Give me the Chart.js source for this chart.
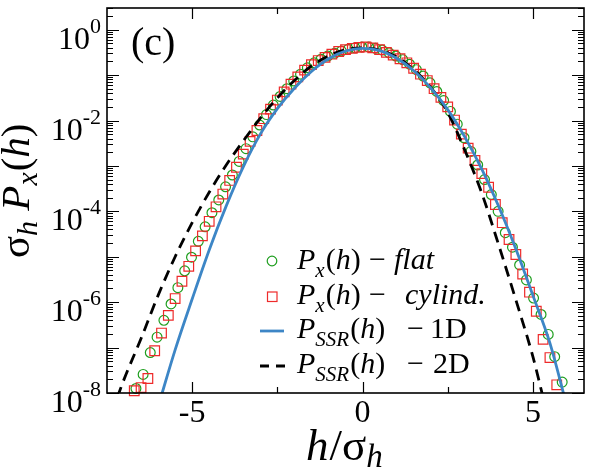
<!DOCTYPE html>
<html>
<head>
<meta charset="utf-8">
<script src="https://cdn.jsdelivr.net/npm/chart.js@4/dist/chart.umd.min.js"></script>
<style>
  html, body { margin: 0; padding: 0; background: #fff; }
  #wrap { width: 592px; height: 469px; }
</style>
</head>
<body>
<div id="wrap"><canvas id="myChart" width="592" height="469"></canvas></div>
<script>
// values (exponents, log10 of sigma_h P_x(h))
var hFlat = [-6.65, -6.44, -6.23, -6.03, -5.83, -5.62, -5.42, -5.22, -5.02, -4.82, -4.62, -4.42, -4.22, -4.02, -3.82,
  -3.62, -3.42, -3.22, -3.02, -2.82, -2.62, -2.42, -2.22, -2.02, -1.82, -1.62, -1.42, -1.22, -1.02, -0.82,
  -0.62, -0.42, -0.22, -0.02, 0.18, 0.38, 0.58, 0.78, 0.98, 1.18, 1.38, 1.58, 1.78, 1.98, 2.18,
  2.38, 2.58, 2.78, 2.98, 3.18, 3.38, 3.58, 3.78, 3.98, 4.19, 4.40, 4.61, 4.81, 5.02, 5.24, 5.45, 5.64, 5.86];
var logFlat = [-7.90, -7.59, -7.11, -6.77, -6.40, -6.04, -5.68, -5.31, -5.01, -4.66, -4.34, -4.03, -3.75, -3.46, -3.20,
  -2.90, -2.62, -2.36, -2.10, -1.87, -1.66, -1.47, -1.30, -1.13, -0.98, -0.84, -0.73, -0.65, -0.58, -0.52,
  -0.47, -0.43, -0.40, -0.38, -0.38, -0.41, -0.45, -0.51, -0.58, -0.66, -0.76, -0.88, -1.02, -1.17, -1.36,
  -1.56, -1.80, -2.08, -2.38, -2.68, -2.98, -3.30, -3.63, -4.00, -4.47, -4.79, -5.18, -5.51, -5.91, -6.27, -6.71, -7.20, -7.76];

var hCyl = [-6.7, -6.5, -6.3, -6.1, -5.9, -5.7, -5.5, -5.3, -5.1, -4.9, -4.7, -4.5, -4.3, -4.1, -3.9,
  -3.7, -3.5, -3.3, -3.1, -2.9, -2.7, -2.5, -2.3, -2.1, -1.9, -1.7, -1.5, -1.3, -1.1, -0.9,
  -0.7, -0.5, -0.3, -0.1, 0.1, 0.3, 0.5, 0.7, 0.9, 1.1, 1.3, 1.5, 1.7, 1.9, 2.1,
  2.3, 2.5, 2.7, 2.9, 3.1, 3.3, 3.5, 3.7, 3.9, 4.1, 4.3, 4.5, 4.7, 4.9, 5.1, 5.3, 5.5, 5.7];
var logCyl = [-7.95, -7.88, -7.68, -7.07, -6.68, -6.29, -5.92, -5.54, -5.21, -4.87, -4.54, -4.22, -3.90, -3.62, -3.32,
  -3.03, -2.74, -2.46, -2.22, -1.96, -1.75, -1.55, -1.37, -1.20, -1.04, -0.89, -0.77, -0.68, -0.61, -0.54,
  -0.48, -0.44, -0.41, -0.39, -0.38, -0.40, -0.44, -0.50, -0.56, -0.64, -0.73, -0.85, -0.98, -1.12, -1.30,
  -1.49, -1.70, -1.99, -2.30, -2.61, -2.88, -3.17, -3.47, -3.85, -4.25, -4.62, -4.95, -5.38, -5.78, -6.20, -6.82, -7.22, -7.82];

var hSSR1 = [-6.0, -5.5, -5.0, -4.5, -4.0, -3.5, -3.0, -2.5, -2.0, -1.5, -1.0, -0.5, 0, 0.5, 1.0, 1.5, 2.0, 2.5, 3.0, 3.5, 4.0, 4.5, 5.0, 5.5, 6.0];
var logSSR1 = [-8.3, -7.05, -5.93, -4.85, -3.88, -3.02, -2.30, -1.74, -1.29, -0.92, -0.64, -0.47, -0.41, -0.46, -0.63, -0.90, -1.28, -1.76, -2.36, -3.07, -3.90, -4.83, -5.85, -6.90, -8.3];

var hSSR2 = [-7.2, -7.0, -6.5, -6.0, -5.5, -5.0, -4.5, -4.0, -3.5, -3.0, -2.5, -2.0, -1.5, -1.0, -0.5, 0, 0.5, 1.0, 1.5, 2.0, 2.5, 3.0, 3.5, 4.0, 4.5, 5.0, 5.3];
var logSSR2 = [-8.1, -7.7, -6.8, -5.85, -5.0, -4.25, -3.58, -2.98, -2.45, -1.95, -1.5, -1.12, -0.80, -0.58, -0.44, -0.40, -0.45, -0.60, -0.88, -1.27, -1.82, -2.65, -3.6, -4.75, -5.95, -7.2, -8.1];

var xMajor = [-5, 0, 5];
var xLabels = ['-5', '0', '5'];
var xMinor = [-2.5, 2.5];
var yExp = [0, -2, -4, -6, -8];

function toPoints(hs, logs) {
  var pts = [];
  for (var i in hs) {
    pts.push({x: hs[i], y: Math.pow(10, logs[i])});
  }
  return pts;
}

var SERIF = '"Liberation Serif", "DejaVu Serif", serif';

// draws pieces of text one after the other: [text, font, dy, extra gap]
function drawRich(ctx, parts, x, y) {
  for (var i in parts) {
    ctx.font = parts[i][1];
    ctx.fillText(parts[i][0], x, y + (parts[i][2] || 0));
    x += ctx.measureText(parts[i][0]).width + (parts[i][3] || 0);
  }
  return x;
}

var decor = {
  id: 'decor',
  afterDraw: function(chart) {
    var ctx = chart.ctx;
    var a = chart.chartArea;
    var xs = chart.scales.x, ys = chart.scales.y;
    ctx.save();
    ctx.strokeStyle = '#000';
    ctx.fillStyle = '#000';
    ctx.lineWidth = 1.6;
    ctx.strokeRect(a.left, a.top, a.right - a.left, a.bottom - a.top);

    // x ticks (inside, top and bottom)
    ctx.lineWidth = 1.2;
    ctx.beginPath();
    xMajor.forEach(function(v) {
      var px = Math.round(xs.getPixelForValue(v)) + 0.5;
      ctx.moveTo(px, a.bottom); ctx.lineTo(px, a.bottom - 11);
      ctx.moveTo(px, a.top); ctx.lineTo(px, a.top + 11);
    });
    xMinor.forEach(function(v) {
      var px = Math.round(xs.getPixelForValue(v)) + 0.5;
      ctx.moveTo(px, a.bottom); ctx.lineTo(px, a.bottom - 6);
      ctx.moveTo(px, a.top); ctx.lineTo(px, a.top + 6);
    });
    // y ticks (inside, left and right)
    for (var e = -8; e <= 0; e++) {
      for (var m = 1; m <= 9; m++) {
        var v = m * Math.pow(10, e);
        if (v < ys.min || v > ys.max) continue;
        var py = Math.round(ys.getPixelForValue(v)) + 0.5;
        var len = (m === 1) ? 12 : 6;
        ctx.moveTo(a.left, py); ctx.lineTo(a.left + len, py);
        ctx.moveTo(a.right, py); ctx.lineTo(a.right - len, py);
      }
    }
    ctx.stroke();

    // x tick labels
    ctx.textAlign = 'center';
    ctx.textBaseline = 'alphabetic';
    ctx.font = '32px ' + SERIF;
    xMajor.forEach(function(v, i) {
      ctx.fillText(xLabels[i], xs.getPixelForValue(v), 422);
    });

    // y tick labels 10^n
    ctx.textAlign = 'left';
    yExp.forEach(function(n) {
      var py = ys.getPixelForValue(Math.pow(10, n));
      var sup = String(n);
      ctx.font = '32px ' + SERIF;
      var w1 = ctx.measureText('10').width;
      ctx.font = '22px ' + SERIF;
      var w2 = ctx.measureText(sup).width;
      var x0 = 101 - w1 - w2;
      ctx.font = '32px ' + SERIF;
      ctx.fillText('10', x0, py + 19);
      ctx.font = '22px ' + SERIF;
      ctx.fillText(sup, x0 + w1, py + 3);
    });

    // panel tag
    ctx.font = '40px ' + SERIF;
    ctx.fillText('(c)', 131, 55);

    // x axis title  h/σ_h
    drawRich(ctx, [
      ['h', 'italic 45px ' + SERIF, 0, 1],
      ['/', '45px ' + SERIF],
      ['\u03c3', '45px ' + SERIF],
      ['h', 'italic 33px ' + SERIF, 7]
    ], 306, 460);

    // y axis title  σ_h P_x(h), rotated
    ctx.save();
    ctx.translate(29, 258);
    ctx.rotate(-Math.PI / 2);
    drawRich(ctx, [
      ['\u03c3', '41px ' + SERIF],
      ['h', 'italic 30px ' + SERIF, 8],
      [' ', '41px ' + SERIF],
      ['P', 'italic 41px ' + SERIF],
      ['x', 'italic 30px ' + SERIF, 8, 1],
      ['(', '41px ' + SERIF],
      ['h', 'italic 41px ' + SERIF],
      [')', '41px ' + SERIF]
    ], 0, 0);
    ctx.restore();

    // legend
    var main = '30px ' + SERIF, it = 'italic 30px ' + SERIF, sub = 'italic 21px ' + SERIF;
    var rows = [
      {y: 269, sub: 'x', mx: 369, word: 'flat', wf: it, wx: 394},
      {y: 304, sub: 'x', mx: 369, word: 'cylind.', wf: it, wx: 405},
      {y: 338, sub: 'SSR', mx: 407, word: '1D', wf: main, wx: 430},
      {y: 373, sub: 'SSR', mx: 407, word: '2D', wf: main, wx: 433}
    ];
    rows.forEach(function(r) {
      drawRich(ctx, [
        ['P', it],
        [r.sub, sub, 8, 1],
        ['(', main],
        ['h', it],
        [')', main]
      ], 297, r.y);
      ctx.font = main;
      ctx.fillText('\u2212', r.mx, r.y);
      ctx.font = r.wf;
      ctx.fillText(r.word, r.wx, r.y);
    });
    // legend symbols
    ctx.lineWidth = 1.2;
    ctx.strokeStyle = '#1e9e1e';
    ctx.beginPath();
    ctx.arc(272, 261, 4.8, 0, 2 * Math.PI);
    ctx.stroke();
    ctx.strokeStyle = '#ee2a2a';
    ctx.strokeRect(267.5, 292, 9.5, 9.5);
    ctx.lineWidth = 2.8;
    ctx.strokeStyle = '#3d86c6';
    ctx.beginPath();
    ctx.moveTo(260, 331); ctx.lineTo(284, 331);
    ctx.stroke();
    ctx.strokeStyle = '#000';
    ctx.setLineDash([9, 7]);
    ctx.beginPath();
    ctx.moveTo(260, 366); ctx.lineTo(286, 366);
    ctx.stroke();
    ctx.restore();
  }
};

var ctx = document.getElementById('myChart');

var chart = new Chart(ctx, {
  type: 'scatter',
  data: {
    datasets: [
      {
        label: 'P_SSR(h) - 1D',
        data: toPoints(hSSR1, logSSR1),
        showLine: true,
        borderColor: '#3d86c6',
        borderWidth: 2.8,
        pointRadius: 0,
        cubicInterpolationMode: 'monotone'
      },
      {
        label: 'P_SSR(h) - 2D',
        data: toPoints(hSSR2, logSSR2),
        showLine: true,
        borderColor: '#000000',
        borderWidth: 2.8,
        borderDash: [11, 7],
        pointRadius: 0,
        cubicInterpolationMode: 'monotone'
      },
      {
        label: 'P_x(h) - cylind.',
        data: toPoints(hCyl, logCyl),
        pointStyle: 'rect',
        pointRadius: 6.8,
        pointBorderWidth: 1.2,
        borderColor: '#ee2a2a',
        backgroundColor: 'rgba(0,0,0,0)',
        clip: 6
      },
      {
        label: 'P_x(h) - flat',
        data: toPoints(hFlat, logFlat),
        pointStyle: 'circle',
        pointRadius: 4.9,
        pointBorderWidth: 1.2,
        borderColor: '#1e9e1e',
        backgroundColor: 'rgba(0,0,0,0)',
        clip: 6
      }
    ]
  },
  options: {
    responsive: false,
    animation: false,
    devicePixelRatio: 1,
    events: [],
    layout: { padding: { left: 107, top: 2, right: 2, bottom: 76 } },
    plugins: { legend: { display: false }, tooltip: { enabled: false } },
    scales: {
      x: { type: 'linear', min: -7.5, max: 6.5, display: false },
      y: { type: 'logarithmic', min: 1e-8, max: 3, display: false }
    }
  },
  plugins: [decor]
});
</script>
</body>
</html>
